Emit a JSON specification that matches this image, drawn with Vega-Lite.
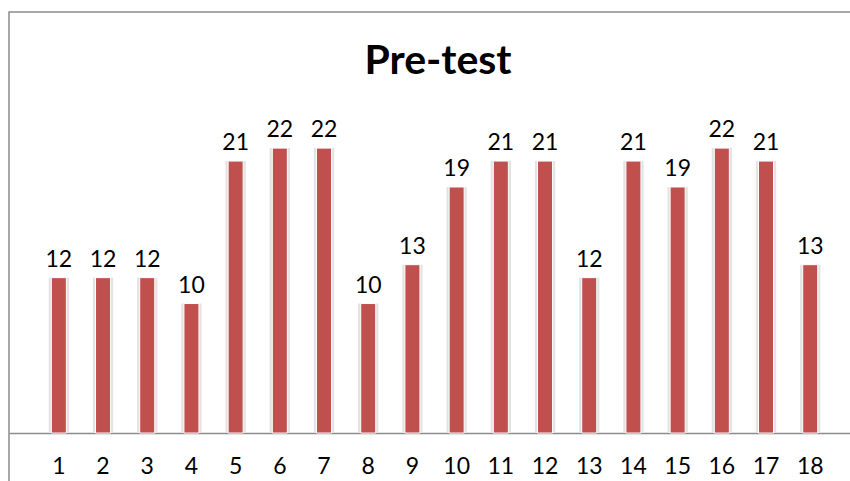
{
  "$schema": "https://vega.github.io/schema/vega-lite/v6.json",
  "autosize": "none",
  "padding": {"left": 9, "top": 12, "right": 0, "bottom": 0},
  "width": 842,
  "height": 470,
  "background": "white",
  "config": {
    "view": {"stroke": "#8c8c8c", "strokeWidth": 1.5},
    "font": "Lato"
  },
  "title": {
    "text": "Pre-test",
    "font": "Lato",
    "fontSize": 41,
    "fontWeight": "bold",
    "color": "#000000",
    "anchor": "middle",
    "baseline": "alphabetic",
    "offset": -103,
    "dx": 8
  },
  "data": {
    "values": [
      {"item": "1", "score": 12},
      {"item": "2", "score": 12},
      {"item": "3", "score": 12},
      {"item": "4", "score": 10},
      {"item": "5", "score": 21},
      {"item": "6", "score": 22},
      {"item": "7", "score": 22},
      {"item": "8", "score": 10},
      {"item": "9", "score": 13},
      {"item": "10", "score": 19},
      {"item": "11", "score": 21},
      {"item": "12", "score": 21},
      {"item": "13", "score": 12},
      {"item": "14", "score": 21},
      {"item": "15", "score": 19},
      {"item": "16", "score": 22},
      {"item": "17", "score": 21},
      {"item": "18", "score": 13}
    ]
  },
  "encoding": {
    "x": {
      "field": "item",
      "type": "ordinal",
      "sort": null,
      "scale": {"paddingInner": 0.66, "paddingOuter": 0.855, "align": 0.56},
      "axis": {
        "title": null,
        "orient": "bottom",
        "offset": -49,
        "labelAngle": 0,
        "ticks": false,
        "tickSize": 0,
        "labelPadding": 22,
        "labelFont": "Lato",
        "labelFontSize": 23,
        "labelColor": "#000000",
        "domainColor": "#8c8c8c",
        "domainWidth": 1.5,
        "grid": false
      }
    },
    "y": {
      "field": "score",
      "type": "quantitative",
      "scale": {"domain": [-3.78, 32.51], "nice": false, "zero": false},
      "axis": null
    }
  },
  "layer": [
    {
      "mark": {"type": "bar", "color": "#e3e3e3", "width": {"band": 1.35}},
      "encoding": {"y2": {"datum": 0}}
    },
    {
      "mark": {"type": "bar", "color": "#C0504D", "stroke": "#ffffff", "strokeWidth": 1},
      "encoding": {"y2": {"datum": 0}}
    },
    {
      "mark": {"type": "text", "baseline": "alphabetic", "dy": -11, "font": "Lato", "fontSize": 23, "color": "#000000"},
      "encoding": {"text": {"field": "score", "type": "quantitative"}}
    }
  ]
}
